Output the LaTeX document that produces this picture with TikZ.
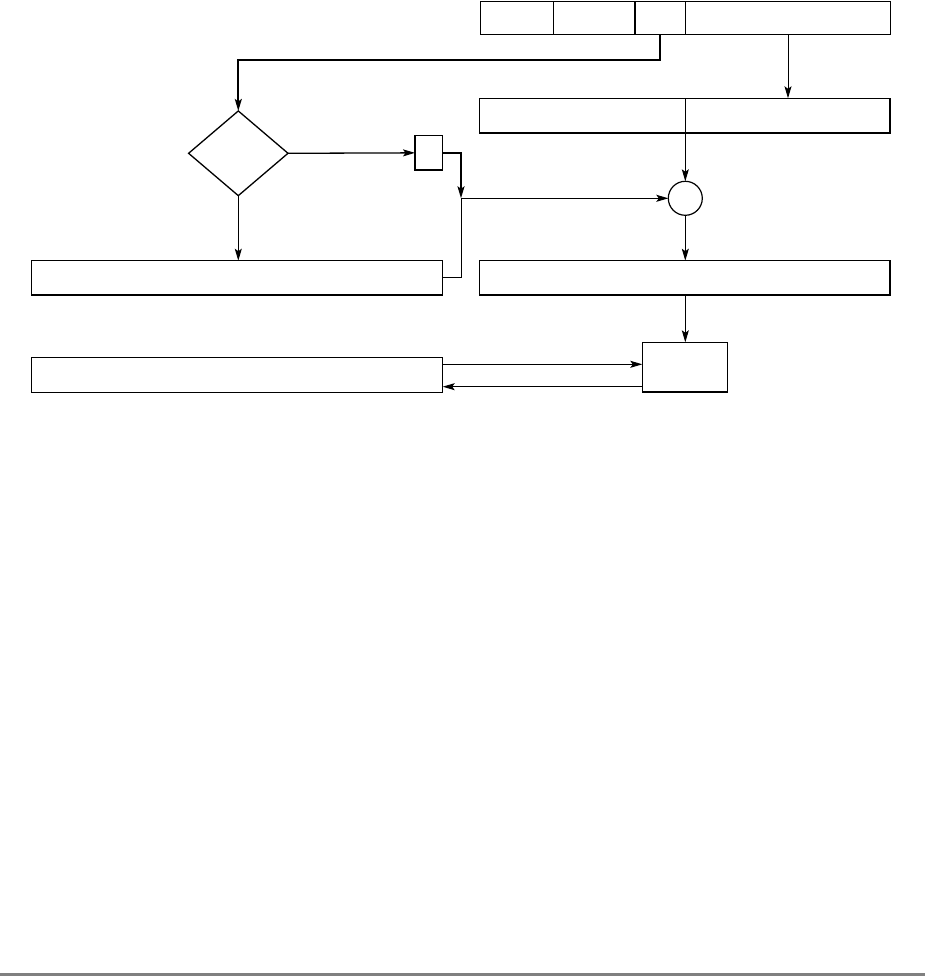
\documentclass[tikz,border=0pt]{standalone}
\usepackage{tikz}
\usetikzlibrary{calc,arrows.meta}
\usetikzlibrary{shapes.geometric}
\definecolor{fc-line}{HTML}{000000}
\definecolor{fc-rule}{HTML}{808080}

\tikzset{
    blk/.style={draw=fc-line, rectangle, line width=1.3pt, inner sep=0pt, outer sep=0pt, anchor=north west},
    flow/.style={-{Stealth[length=12pt,width=7pt,inset=2.5pt]}, line width=1pt, fc-line},
    heavy/.style={line width=1.7pt},
}

\begin{document}
\begin{tikzpicture}[x=1pt, y=-1pt]
    \useasboundingbox (0,0) rectangle (925,976);
    % Register fields along the top
    \foreach \n/\xa/\xb in {f1/480.7/553.3, f2/553.3/635, f3/635/685.3, f4/685.3/890.7} {
        \pgfmathsetmacro{\w}{\xb - \xa}
        \node[blk, minimum width=\w pt, minimum height=33pt] (\n) at (\xa,1.3) {};
    }
    % Split table row below
    \node[blk, minimum width=206pt, minimum height=34.7pt] (s1) at (479.3,98.3) {};
    \node[blk, minimum width=204.7pt, minimum height=34.7pt] (s2) at (685.3,98.3) {};
    % Decision and select
    \node[draw=fc-line, diamond, line width=1.3pt, inner sep=0pt, outer sep=0pt, aspect=1.17,
          minimum width=99.4pt, minimum height=84.7pt] (dec) at (238.3,153.3) {};
    \node[blk, minimum width=27.3pt, minimum height=34.3pt] (sel) at (415,135.7) {};
    \node[draw=fc-line, circle, line width=1.2pt, inner sep=0pt, outer sep=0pt, minimum size=34pt] (sum) at (685.3,198.3) {};
    % Result rows
    \node[blk, minimum width=411pt, minimum height=34.3pt] (lbox) at (31.7,260.7) {};
    \node[blk, minimum width=410.7pt, minimum height=34.3pt] (rbox) at (479.3,260.7) {};
    \node[blk, minimum width=411pt, minimum height=35pt] (bbox) at (31.7,357.3) {};
    \node[blk, minimum width=85.4pt, minimum height=49.7pt] (mem) at (642.3,342.3) {};
    % Connectors
    \coordinate (bend) at (238.3,60);
    \coordinate (join) at (461,198.3);
    \coordinate (wr) at (0,364.3);
    \coordinate (rd) at (0,386.7);
    \draw[flow, heavy] (f3.south) |- (bend) -- (dec.north);
    \draw[flow] (f4.south) -- (f4.south |- s2.north);
    \draw[flow] (s1.south east) -- (sum.north);
    \draw[flow, line width=1.3pt] (dec.east) -- (sel.west);
    \draw[flow, heavy] (sel.east) -| (join);
    \draw[flow] (lbox.east) -| (join) -- (sum.west);
    \draw[flow] (dec.south) -- (dec.south |- lbox.north);
    \draw[flow] (sum.south) -- (sum.south |- rbox.north);
    \draw[flow] (sum.south |- rbox.south) -- (sum.south |- mem.north);
    \draw[flow] (bbox.east |- wr) -- (mem.west |- wr);
    \draw[flow] (mem.west |- rd) -- (bbox.east |- rd);
    % Rule at the foot of the page
    \fill[fc-rule] (0,972.7) rectangle (925,976);
\end{tikzpicture}
\end{document}
